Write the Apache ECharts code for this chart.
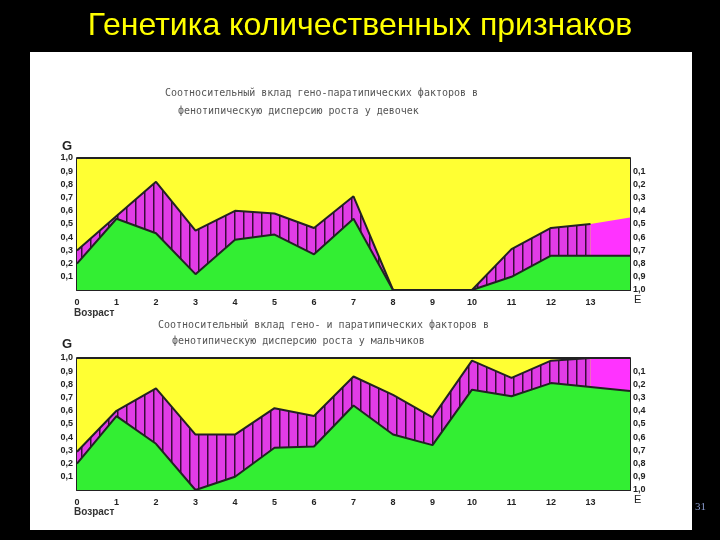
<!DOCTYPE html>
<html>
<head>
<meta charset="utf-8" />
<title>Генетика количественных признаков</title>
<script src="https://cdn.jsdelivr.net/npm/echarts@6/dist/echarts.min.js"></script>
<style>
  body { margin: 0; background: #000; }
  #main { width: 720px; height: 540px; }
</style>
</head>
<body>
<div id="main"></div>
<script type="text/javascript">
    // возраст (0..13, 14 - продолжение до правой оси E)
    var ages = [0, 1, 2, 3, 4, 5, 6, 7, 8, 9, 10, 11, 12, 13];
    // девочки: доля G_A и верхняя граница G_A + E_w
    var girlsGA  = [0.20, 0.54, 0.43, 0.12, 0.38, 0.42, 0.27, 0.54, 0, 0, 0, 0.10, 0.26, 0.26];
    var girlsTop = [0.30, 0.56, 0.82, 0.45, 0.60, 0.58, 0.47, 0.71, 0, 0, 0, 0.31, 0.47, 0.50];
    var girlsTail = [0.26, 0.55];   // G и верх E_w на правой границе
    // мальчики
    var boysGA  = [0.20, 0.56, 0.35, 0.00, 0.10, 0.32, 0.33, 0.64, 0.42, 0.34, 0.76, 0.71, 0.81, 0.78];
    var boysTop = [0.29, 0.60, 0.77, 0.42, 0.42, 0.62, 0.56, 0.86, 0.72, 0.55, 0.98, 0.85, 0.98, 1.00];
    var boysTail = [0.75, 1.00];
    var leftTicks = ['', '0,1', '0,2', '0,3', '0,4', '0,5', '0,6', '0,7', '0,8', '0,9', '1,0'];

    var myChart = echarts.init(document.getElementById('main'));

    function pairs(ys) {
        return ages.map(function (a, i) { return [a, ys[i]]; });
    }
    function tick(v) {
        return leftTicks[Math.round(v * 10)];
    }

    // штриховка E_w: вертикальные линии на пурпурном
    var hc = document.createElement('canvas');
    hc.width = 9; hc.height = 4;
    var hx = hc.getContext('2d');
    hx.fillStyle = '#e13ce6'; hx.fillRect(0, 0, 9, 4);
    hx.fillStyle = '#3a0a3a'; hx.fillRect(0, 0, 1.5, 4);
    var hatch = { image: hc, repeat: 'repeat' };

    var axFont = 'Liberation Sans';

    function grid(top) {
        return { left: 77, right: 90, top: top, height: 132 };
    }
    function xAxis(idx) {
        return {
            gridIndex: idx, type: 'value', min: 0, max: 14, interval: 1,
            axisLine: { lineStyle: { color: '#222', width: 2 } },
            axisTick: { show: false }, splitLine: { show: false },
            axisLabel: { color: '#222', fontSize: 9, fontWeight: 'bold', fontFamily: axFont,
                formatter: function (v) { return v < 14 ? v : ''; } }
        };
    }
    function yAxes(idx) {
        return [{
            gridIndex: idx, type: 'value', min: 0, max: 1, interval: 0.1, position: 'left',
            axisLine: { show: true, lineStyle: { color: '#222', width: 2 } },
            axisTick: { show: false }, splitLine: { show: false },
            axisLabel: { color: '#222', fontSize: 9, fontWeight: 'bold', margin: 4, fontFamily: axFont, formatter: tick }
        }, {
            gridIndex: idx, type: 'value', min: 0, max: 1, interval: 0.1, position: 'right', inverse: true,
            axisLine: { show: true, lineStyle: { color: '#222', width: 2 } },
            axisTick: { show: false }, splitLine: { show: false },
            axisLabel: { color: '#222', fontSize: 9, fontWeight: 'bold', margin: 3, fontFamily: axFont, formatter: tick }
        }];
    }

    function chartSeries(idx, ga, top, tail, labels) {
        var yi = idx * 2;
        var base = { xAxisIndex: idx, yAxisIndex: yi, type: 'line', symbol: 'none', silent: true };
        return [
            Object.assign({}, base, { data: [[0, 1], [14, 1]], lineStyle: { color: '#222', width: 2 }, areaStyle: { color: '#ffff33', opacity: 1 } }),
            Object.assign({}, base, { data: [[13, top[13]], [14, tail[1]]], lineStyle: { width: 0 }, areaStyle: { color: '#ff33ff', opacity: 1 } }),
            Object.assign({}, base, { data: pairs(top), lineStyle: { color: '#222', width: 2 }, areaStyle: { color: hatch, opacity: 1 } }),
            Object.assign({}, base, { data: pairs(ga).concat([[14, tail[0]]]), lineStyle: { color: '#222', width: 2 }, areaStyle: { color: '#33ee33', opacity: 1 } }),
            {
                xAxisIndex: idx, yAxisIndex: yi, type: 'scatter', symbolSize: 2, silent: true, z: 10,
                itemStyle: { opacity: 0 }, data: labels,
                label: { show: true, position: 'inside', formatter: function (p) { return p.data[2]; },
                    rich: { m: { color: '#444', fontSize: 11, fontFamily: 'DejaVu Sans Mono' }, s: { color: '#444', fontSize: 8, padding: [6, 0, 0, 0] } } }
            }
        ];
    }

    var girlsLabels = [
        [3.6, 0.74, '{m|E}{s|C}'], [2.5, 0.46, '{m|E}{s|W}'], [1.4, 0.11, '{m|G}{s|A}'],
        [4.5, 0.5, '{m|E}{s|W}'], [4.8, 0.11, '{m|G}{s|A}'], [7.3, 0.11, '{m|G}{s|A}'],
        [8.8, 0.74, '{m|E}{s|C}'], [11.8, 0.74, '{m|E}{s|C}'], [12.8, 0.37, '{m|E}{s|W}'], [12.3, 0.11, '{m|G}{s|A}']
    ];
    var boysLabels = [
        [0.8, 0.78, '{m|E}{s|C}'], [3.6, 0.78, '{m|E}{s|C}'], [8.7, 0.78, '{m|E}{s|C}'],
        [1.4, 0.19, '{m|G}{s|A}'], [3.5, 0.19, '{m|E}{s|W}'], [8.5, 0.5, '{m|E}{s|W}'],
        [7.1, 0.2, '{m|G}{s|A}'], [9.7, 0.2, '{m|G}{s|A}'], [11.8, 0.2, '{m|G}{s|D}'], [13.1, 0.2, '{m|G}{s|D}'],
        [13.1, 0.93, '{m|E}{s|W}']
    ];

    myChart.setOption({
        backgroundColor: '#000',
        animation: false,
        graphic: [
            { type: 'rect', z: -10, shape: { x: 30, y: 52, width: 662, height: 478 }, style: { fill: '#fff' } },
            { type: 'text', left: 'center', top: 10, style: { text: 'Генетика количественных признаков', fill: '#ffff00', font: '32px "Liberation Sans"' } },
            { type: 'text', left: 165, top: 88, style: { text: 'Соотносительный вклад гено-паратипических факторов в', fill: '#555', font: '10px "DejaVu Sans Mono"' } },
            { type: 'text', left: 178, top: 106, style: { text: 'фенотипическую дисперсию роста у девочек', fill: '#555', font: '10px "DejaVu Sans Mono"' } },
            { type: 'text', left: 158, top: 320, style: { text: 'Соотносительный вклад гено- и паратипических факторов в', fill: '#555', font: '10px "DejaVu Sans Mono"' } },
            { type: 'text', left: 172, top: 336, style: { text: 'фенотипическую дисперсию роста у мальчиков', fill: '#555', font: '10px "DejaVu Sans Mono"' } },
            { type: 'text', left: 62, top: 140, style: { text: 'G', fill: '#222', font: 'bold 13px "Liberation Sans"' } },
            { type: 'text', left: 62, top: 338, style: { text: 'G', fill: '#222', font: 'bold 13px "Liberation Sans"' } },
            { type: 'text', left: 74, top: 308, style: { text: 'Возраст', fill: '#333', font: 'bold 10px "Liberation Sans"' } },
            { type: 'text', left: 74, top: 507, style: { text: 'Возраст', fill: '#333', font: 'bold 10px "Liberation Sans"' } },
            { type: 'text', left: 634, top: 294, style: { text: 'E', fill: '#222', font: '11px "Liberation Sans"' } },
            { type: 'text', left: 634, top: 494, style: { text: 'E', fill: '#222', font: '11px "Liberation Sans"' } },
            { type: 'text', left: 695, top: 502, style: { text: '31', fill: '#8899cc', font: '11px "Liberation Serif"' } }
        ],
        grid: [grid(158), grid(358)],
        xAxis: [xAxis(0), xAxis(1)],
        yAxis: yAxes(0).concat(yAxes(1)),
        series: chartSeries(0, girlsGA, girlsTop, girlsTail, girlsLabels)
            .concat(chartSeries(1, boysGA, boysTop, boysTail, boysLabels))
    });
</script>
</body>
</html>
